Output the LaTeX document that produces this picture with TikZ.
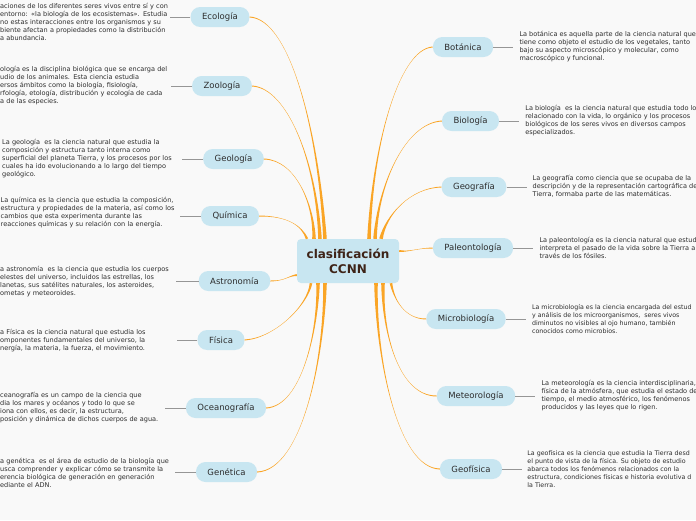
\documentclass[tikz,border=0pt]{standalone}
\usepackage{fontspec}
\setmainfont{DejaVu Sans}
\usepackage{tikz}
\usetikzlibrary{positioning,calc}

\definecolor{pagebg}{RGB}{249,249,249}
\definecolor{pill}{RGB}{200,230,241}
\definecolor{branch}{RGB}{250,165,38}
\definecolor{stubgrey}{RGB}{150,150,150}
\definecolor{inkgrey}{RGB}{45,45,45}
\definecolor{rootink}{RGB}{62,36,24}

% tapered branch: [half width at root]{leaf anchor}{ctrl near leaf}{ctrl near root}{root point}
\newcommand{\twig}[5][1.8pt]{%
  \fill[twig] ($(#2)!0.5pt!90:(#3)$) .. controls (#3) and (#4) .. ($(#5)!#1!-90:(#4)$)
    -- ($(#5)!#1!90:(#4)$) .. controls (#4) and (#3) .. ($(#2)!0.5pt!-90:(#3)$) -- cycle;}

\begin{document}
\begin{tikzpicture}[
  x=1pt,y=1pt,
  root/.style={fill=pill,rounded corners=4pt,minimum width=102pt,minimum height=44pt,align=center,text=rootink,font=\bfseries\fontsize{12}{15}\selectfont},
  leaf/.style={fill=pill,rounded corners=9.5pt,minimum height=20pt,inner xsep=11.5pt,text=inkgrey,font=\fontsize{8.5}{10}\selectfont},
  desc/.style={inner sep=0pt,align=left,text=inkgrey,font=\fontsize{6.55}{8}\selectfont},
  tightdesc/.style={desc,font=\fontsize{6.3}{8}\selectfont},
  stub/.style={draw=stubgrey,line width=1pt},
  twig/.style={fill=branch}
]
\useasboundingbox (0,0) rectangle (696,-520);
\fill[pagebg] (0,0) rectangle (696,-520);

\node[root] (root) at (348,-261) {clasificación\\CCNN};

% left side
\node[leaf] (eco) at (220,-17) {Ecología};
\node[leaf] (zoo) at (222,-86) {Zoología};
\node[leaf] (geol) at (233.5,-159) {Geología};
\node[leaf] (qui) at (230,-216) {Química};
\node[leaf] (astro) at (234.5,-281) {Astronomía};
\node[leaf] (fis) at (221,-340) {Física};
\node[leaf] (ocea) at (226,-408) {Oceanografía};
\node[leaf] (gen) at (226.5,-472) {Genética};

% right side
\node[leaf] (bot) at (463,-47) {Botánica};
\node[leaf] (bio) at (470.5,-121) {Biología};
\node[leaf] (geog) at (474,-187) {Geografía};
\node[leaf] (pal) at (473,-248) {Paleontología};
\node[leaf] (micro) at (466,-319) {Microbiología};
\node[leaf] (meteo) at (476,-396) {Meteorología};
\node[leaf] (geof) at (471,-469) {Geofísica};

% descriptions (left ones run off the page edge)
\node[desc,anchor=west,text width=170pt] (ecod) at (0,-21.5) {aciones de los diferentes seres vivos entre sí y con\\entorno: «la biología de los ecosistemas». Estudia\\no estas interacciones entre los organismos y su\\biente afectan a propiedades como la distribución\\a abundancia.};
\node[desc,anchor=west,text width=171pt] (zood) at (0,-86) {ología es la disciplina biológica que se encarga del\\udio de los animales. Esta ciencia estudia\\ersos ámbitos como la biología, fisiología,\\rfología, etología, distribución y ecología de cada\\a de las especies.};
\node[desc,anchor=west,text width=180pt] (geold) at (2,-159) {La geología~ es la ciencia natural que estudia la\\composición y estructura tanto interna como\\superficial del planeta Tierra, y los procesos por los\\cuales ha ido evolucionando a lo largo del tiempo\\geológico.};
\node[desc,anchor=west,text width=179.5pt] (quid) at (0.5,-213) {La química es la ciencia que estudia la composición,\\estructura y propiedades de la materia, así como los\\cambios que esta experimenta durante las\\reacciones químicas y su relación con la energía.};
\node[desc,anchor=west,text width=176pt] (astrod) at (0,-282) {a astronomía~ es la ciencia que estudia los cuerpos\\elestes del universo, incluidos las estrellas, los\\lanetas, sus satélites naturales, los asteroides,\\ometas y meteoroides.};
\node[desc,anchor=west,text width=177pt] (fisd) at (0,-340.3) {a Física es la ciencia natural que estudia los\\omponentes fundamentales del universo, la\\nergía, la materia, la fuerza, el movimiento.};
\node[desc,anchor=west,text width=165pt] (ocead) at (0,-408) {ceanografía es un campo de la ciencia que\\dia los mares y océanos y todo lo que se\\iona con ellos, es decir, la estructura,\\posición y dinámica de dichos cuerpos de agua.};
\node[desc,anchor=west,text width=175pt] (gend) at (0,-472.5) {a genética~ es el área de estudio de la biología que\\usca comprender y explicar cómo se transmite la\\erencia biológica de generación en generación\\ediante el ADN.};

\node[desc,right=26pt of bot] (botd) {La botánica es aquella parte de la ciencia natural que\\tiene como objeto el estudio de los vegetales, tanto\\bajo su aspecto microscópico y molecular, como\\macroscópico y funcional.};
\node[desc,right=26pt of bio] (biod) {La biología~ es la ciencia natural que estudia todo lo\\relacionado con la vida, lo orgánico y los procesos\\biológicos de los seres vivos en diversos campos\\especializados.};
\node[desc,right=26pt of geog] (geogd) {La geografía como ciencia que se ocupaba de la\\descripción y de la representación cartográfica de\\Tierra, formaba parte de las matemáticas.};
\node[desc,right=26pt of pal] (pald) {La paleontología es la ciencia natural que estud\\interpreta el pasado de la vida sobre la Tierra a\\través de los fósiles.};
\node[tightdesc,right=26pt of micro] (microd) {La microbiología es la ciencia encargada del estud\\y análisis de los microorganismos,~ seres vivos\\diminutos no visibles al ojo humano, también\\conocidos como microbios.};
\node[desc,right=26pt of meteo] (meteod) {La meteorología es la ciencia interdisciplinaria,\\física de la atmósfera, que estudia el estado de\\tiempo, el medio atmosférico, los fenómenos\\producidos y las leyes que lo rigen.};
\node[tightdesc,right=25pt of geof] (geofd) {La geofísica es la ciencia que estudia la Tierra desd\\el punto de vista de la física. Su objeto de estudio\\abarca todos los fenómenos relacionados con la\\estructura, condiciones físicas e historia evolutiva d\\la Tierra.};

% grey stubs
\draw[stub] (eco.west) -- (ecod.east |- eco.west);
\draw[stub] (zoo.west) -- (zood.east |- zoo.west);
\draw[stub] (geol.west) -- (geold.east |- geol.west);
\draw[stub] (qui.west) -- (quid.east |- qui.west);
\draw[stub] (astro.west) -- (astrod.east |- astro.west);
\draw[stub] (fis.west) -- (fisd.east |- fis.west);
\draw[stub] (ocea.west) -- (ocead.east |- ocea.west);
\draw[stub] (gen.west) -- (gend.east |- gen.west);
\draw[stub,shorten >=6pt] (bot.east) -- (botd.west);
\draw[stub,shorten >=6pt] (bio.east) -- (biod.west);
\draw[stub,shorten >=6pt] (geog.east) -- (geogd.west);
\draw[stub,shorten >=6pt] (pal.east) -- (pald.west);
\draw[stub,shorten >=6pt] (micro.east) -- (microd.west);
\draw[stub,shorten >=6pt] (meteo.east) -- (meteod.west);
\draw[stub,shorten >=5pt] (geof.east) -- (geofd.west);

% orange branches
\twig{eco.east}{290,-19}{318,-130}{[xshift=-23pt]root.north}
\twig{zoo.east}{287,-88}{316,-160}{[xshift=-28pt]root.north}
\twig{geol.east}{296,-160}{314,-205}{[xshift=-34pt]root.north}
\twig[1.2pt]{qui.east}{288,-216}{302,-226}{[xshift=-41pt]root.north}
\twig[1pt]{astro.east}{285,-281}{288,-276}{[yshift=-14pt]root.west}
\twig[1.3pt]{fis.east}{275,-338}{308,-305}{[xshift=-37pt]root.south}
\twig{ocea.east}{302,-406}{318,-330}{[xshift=-30pt]root.south}
\twig{gen.east}{302,-470}{324,-360}{[xshift=-23pt]root.south}
\twig{bot.west}{398,-49}{372,-150}{[xshift=21pt]root.north}
\twig{bio.west}{405,-123}{378,-185}{[xshift=27pt]root.north}
\twig{geog.west}{410,-188}{386,-215}{[xshift=33pt]root.north}
\twig[1pt]{pal.west}{418,-248}{410,-252}{[yshift=10pt]root.east}
\twig[1.3pt]{micro.west}{405,-319}{394,-300}{[xshift=43pt]root.south}
\twig{meteo.west}{398,-396}{382,-330}{[xshift=35pt]root.south}
\twig{geof.west}{398,-468}{376,-360}{[xshift=28pt]root.south}
\end{tikzpicture}
\end{document}
